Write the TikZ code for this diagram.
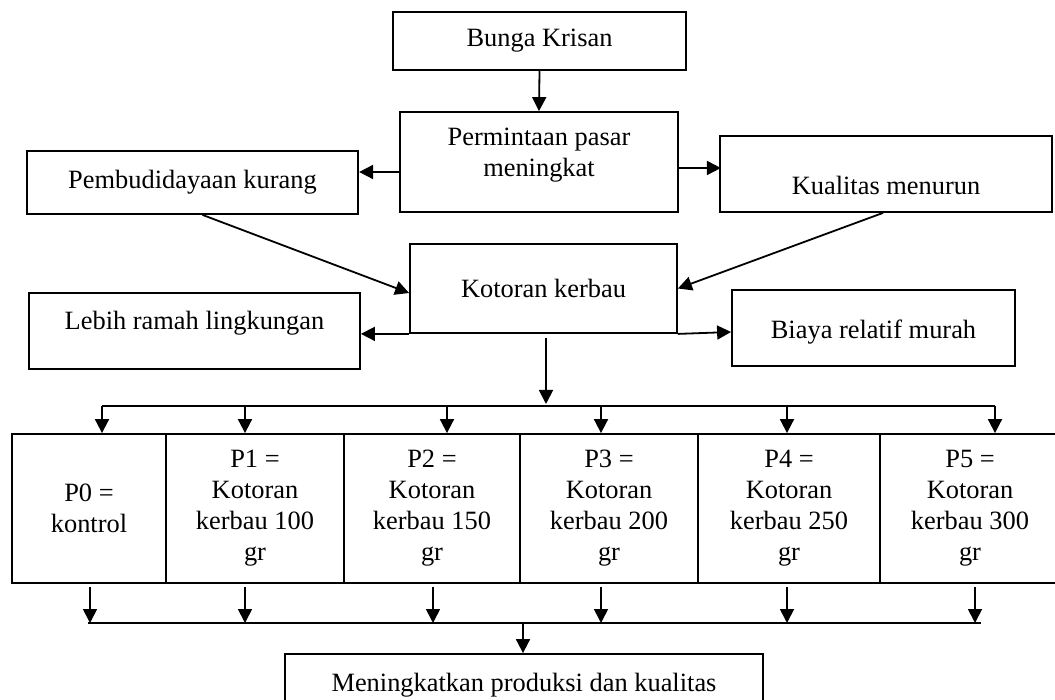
\documentclass[tikz,border=0pt]{standalone}
\usepackage{fontspec}
\setmainfont{Liberation Serif}
\usetikzlibrary{arrows.meta}
\begin{document}
\begin{tikzpicture}[x=1pt,y=-1pt,
 box/.style={draw,line width=1.8pt,inner sep=0pt,align=center,font=\fontsize{26.4}{31}\selectfont},
 txt/.style={inner sep=0pt,align=center,font=\fontsize{26.4}{31}\selectfont},
 arr/.style={line width=1.8pt,-{Triangle[length=14pt,width=14pt]}},
 ln/.style={line width=1.8pt}]
\useasboundingbox (0,0) rectangle (1055,700);
% boxes
\node[box,minimum width=293pt,minimum height=58pt] (bunga) at (539.5,41) {Bunga Krisan};
\node[box,minimum width=278pt,minimum height=100pt] (perm) at (539,162) {};
\node[txt] (permt) at (539,155) {Permintaan pasar\\meningkat};
\node[box,minimum width=331pt,minimum height=63pt] (pemb) at (192.5,182.5) {Pembudidayaan kurang};
\node[box,minimum width=332pt,minimum height=76pt] (kual) at (886,174) {};
\node[txt] (kualt) at (886,185) {Kualitas menurun};
\node[box,minimum width=267pt,minimum height=89pt] (kot) at (543.5,288.5) {Kotoran kerbau};
\node[box,minimum width=331pt,minimum height=76pt] (lebih) at (194.5,331) {};
\node[txt] (lebiht) at (194.5,323) {Lebih ramah lingkungan};
\node[box,minimum width=283pt,minimum height=76pt] (biaya) at (873.5,328) {};
\node[txt] (biayat) at (873.5,332) {Biaya relatif murah};
% treatment cells
\node[box,minimum width=154pt,minimum height=149pt] (p0) at (89,508.5) {P0 =\\kontrol};
\node[box,minimum width=178pt,minimum height=149pt] (p1) at (255,508.5) {P1 =\\Kotoran\\kerbau 100\\gr};
\node[box,minimum width=176pt,minimum height=149pt] (p2) at (432,508.5) {P2 =\\Kotoran\\kerbau 150\\gr};
\node[box,minimum width=178pt,minimum height=149pt] (p3) at (609,508.5) {P3 =\\Kotoran\\kerbau 200\\gr};
\node[box,minimum width=182pt,minimum height=149pt] (p4) at (789,508.5) {P4 =\\Kotoran\\kerbau 250\\gr};
\node[box,minimum width=180pt,minimum height=149pt] (p5) at (970,508.5) {P5 =\\Kotoran\\kerbau 300\\gr};
\node[box,minimum width=478pt,minimum height=62pt] (mening) at (524,685) {Meningkatkan produksi dan kualitas};
% connectors top part
\draw[arr] (bunga.south) -- (perm.north);
\draw[arr] ([yshift=-10pt]perm.west) -- ++(-40,0);
\draw[arr] ([yshift=-6pt]perm.east) -- ++(42,0);
\draw[arr] ([xshift=10pt]pemb.south) -- ([yshift=-4.5pt]kot.west);
\draw[arr] ([xshift=-3pt]kual.south) -- (kot.east);
\draw[arr] (kot.south west) -- (kot.south west -| lebih.east);
\draw[arr] (kot.south east) -- ([yshift=-4pt]biaya.west);
% distribution bus
\coordinate (tk) at (546,404);
\coordinate (t0) at (102,406);
\coordinate (t1) at (245,406);
\coordinate (t2) at (447,406);
\coordinate (t3) at (601,406);
\coordinate (t4) at (787,406);
\coordinate (t5) at (995,406);
\draw[arr,shorten <=4pt] (kot.south -| tk) -- (tk);
\draw[ln] (t0) -- (t5);
\foreach \i in {0,...,5}{\draw[arr] (t\i) -- (t\i |- p\i.north);}
% collection bus
\coordinate (b0) at (90,623);
\coordinate (b1) at (245,623);
\coordinate (b2) at (433,623);
\coordinate (b3) at (601,623);
\coordinate (b4) at (787,623);
\coordinate (b5) at (975,623);
\coordinate (bm) at (523,623);
\foreach \i in {0,...,5}{\draw[arr,shorten <=3pt] (p\i.south -| b\i) -- (b\i);}
\draw[ln] ([xshift=-2pt]b0) -- ([xshift=6pt]b5);
\draw[arr] (bm) -- (bm |- mening.north);
\end{tikzpicture}
\end{document}
